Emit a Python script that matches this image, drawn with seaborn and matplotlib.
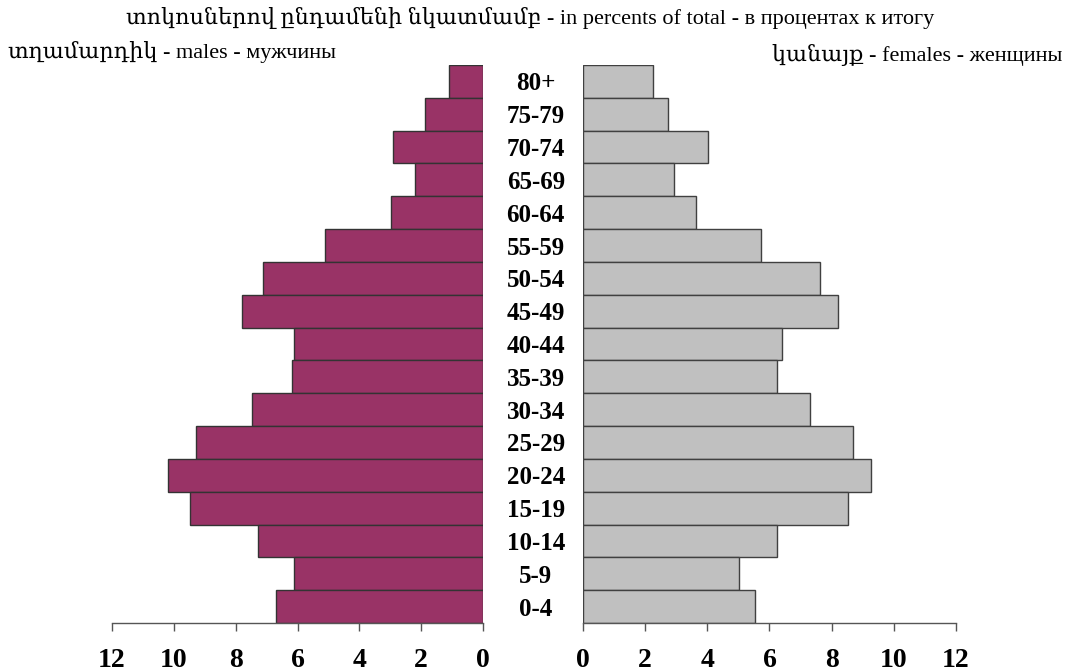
import matplotlib
matplotlib.use("Agg")
import matplotlib.pyplot as plt
import pandas as pd
import seaborn as sns

# Age groups, youngest first
ages = ['0-4', '5-9', '10-14', '15-19', '20-24', '25-29', '30-34', '35-39',
        '40-44', '45-49', '50-54', '55-59', '60-64', '65-69', '70-74', '75-79', '80+']
males = [6.70, 6.12, 7.28, 9.48, 10.18, 9.27, 7.48, 6.18,
         6.12, 7.80, 7.12, 5.11, 2.98, 2.20, 2.91, 1.88, 1.10]
females = [5.54, 5.03, 6.23, 8.51, 9.26, 8.70, 7.31, 6.23,
           6.41, 8.19, 7.62, 5.73, 3.63, 2.94, 4.01, 2.74, 2.24]
x_ticks = [0, 2, 4, 6, 8, 10, 12]

df = pd.DataFrame({'age': ages, 'males': males, 'females': females})
order = ages[::-1]

sns.set_style("white")
plt.rcParams['font.family'] = ['Liberation Serif', 'DejaVu Serif', 'DejaVu Sans']
plt.rcParams['text.color'] = 'black'
plt.rcParams['xtick.color'] = 'black'
plt.rcParams['ytick.color'] = 'black'

fig = plt.figure(figsize=(10.67, 6.72), dpi=100)
W, H = 1067, 672
ax_m = fig.add_axes([112 / W, (H - 623) / H, (483 - 112) / W, (623 - 65) / H])
ax_f = fig.add_axes([583 / W, (H - 623) / H, (956 - 583) / W, (623 - 65) / H])

sns.barplot(data=df, x='males', y='age', order=order, ax=ax_m, color='#993366',
            saturation=1, width=1.0, edgecolor='#333333', linewidth=1)
sns.barplot(data=df, x='females', y='age', order=order, ax=ax_f, color='#C0C0C0',
            saturation=1, width=1.0, edgecolor='#404040', linewidth=1)

ax_m.set_xlim(12, 0)
ax_f.set_xlim(0, 12)

for ax in (ax_m, ax_f):
    ax.set_ylim(len(ages) - 0.5, -0.5)
    ax.set_xlabel('')
    ax.set_ylabel('')
    ax.set_xticks(x_ticks)
    ax.set_xticklabels([str(t) for t in x_ticks], fontsize=20, fontweight='bold')
    ax.tick_params(axis='x', direction='out', length=6, width=1, color='#555555',
                   labelcolor='black', pad=12, bottom=True)
    for s in ['top', 'left', 'right']:
        ax.spines[s].set_visible(False)
    ax.spines['bottom'].set_color('#555555')
    ax.spines['bottom'].set_linewidth(1)

ax_m.set_yticks([])
ax_f.tick_params(axis='y', length=0, pad=34, left=True, labelcolor='black')
ax_f.set_yticks(range(len(order)))
ax_f.set_yticklabels(order, fontsize=18, fontweight='bold', ha='center')

fig.text(530 / W, 1 - 18 / H, 'տոկոսներով ընդամենի նկատմամբ - in percents of total - в процентах к итогу',
         ha='center', va='center', fontsize=16)
fig.text(8 / W, 1 - 52 / H, 'տղամարդիկ - males - мужчины', ha='left', va='center', fontsize=16)
fig.text(1062 / W, 1 - 55 / H, 'կանայք - females - женщины', ha='right', va='center', fontsize=16)

fig.savefig('out.png', dpi=100)
